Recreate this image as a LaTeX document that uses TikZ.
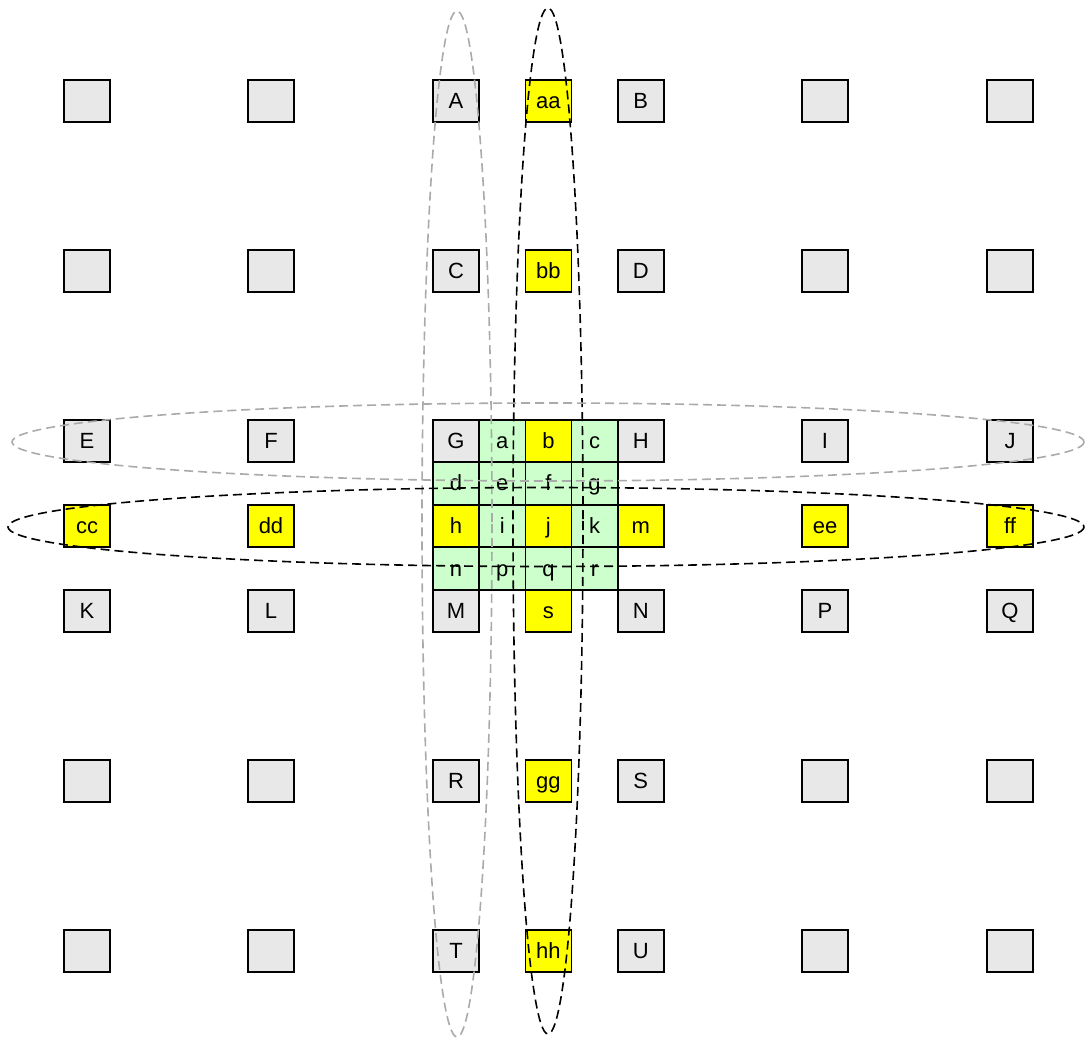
\documentclass[tikz,border=0pt]{standalone}
\usepackage{fontspec}
\setmainfont{Liberation Sans}
\definecolor{boxgray}{HTML}{E8E8E8}
\definecolor{boxyellow}{HTML}{FFFF00}
\definecolor{boxgreen}{HTML}{CCFFCC}
\definecolor{ringgray}{HTML}{AAAAAA}
\begin{document}
\begin{tikzpicture}[x=1pt,y=-1pt,
  cell/.style={draw=black,line width=1.6pt,minimum width=46.2pt,minimum height=42.5pt,inner sep=0pt,text height=15pt,text depth=0pt,font=\fontsize{22}{22}\selectfont},
  gcell/.style={cell,fill=boxgray},
  ycell/.style={cell,fill=boxyellow},
  ncell/.style={cell,fill=boxgreen},
  ring/.style={dashed,dash pattern=on 9pt off 5pt,line width=1.6pt},
  gring/.style={ring,draw=ringgray},
  bring/.style={ring,draw=black}]
\useasboundingbox (0,0) rectangle (1085,1040);
% row 1
\node[gcell] (x11) at (87,101) {};
\node[gcell] (x12) at (271,101) {};
\node[gcell] (A) at (456,101) {A};
\node[ycell] (aa) at (548.4,101) {aa};
\node[gcell] (B) at (640.8,101) {B};
\node[gcell] (x16) at (825,101) {};
\node[gcell] (x17) at (1010,101) {};
% row 2
\node[gcell] (x21) at (87,271) {};
\node[gcell] (x22) at (271,271) {};
\node[gcell] (C) at (456,271) {C};
\node[ycell] (bb) at (548.4,271) {bb};
\node[gcell] (D) at (640.8,271) {D};
\node[gcell] (x26) at (825,271) {};
\node[gcell] (x27) at (1010,271) {};
% row 3
\node[gcell] (E) at (87,441) {E};
\node[gcell] (F) at (271,441) {F};
\node[gcell] (G) at (456,441) {G};
\node[ncell] (a) at (502.2,441) {a};
\node[ycell] (b) at (548.4,441) {b};
\node[ncell] (c) at (594.6,441) {c};
\node[gcell] (H) at (640.8,441) {H};
\node[gcell] (I) at (825,441) {I};
\node[gcell] (J) at (1010,441) {J};
% row 4
\node[ncell] (d) at (456,483.5) {d};
\node[ncell] (e) at (502.2,483.5) {e};
\node[ncell] (f) at (548.4,483.5) {f};
\node[ncell] (g) at (594.6,483.5) {g};
% row 5
\node[ycell] (cc) at (87,526) {cc};
\node[ycell] (dd) at (271,526) {dd};
\node[ycell] (h) at (456,526) {h};
\node[ncell] (i) at (502.2,526) {i};
\node[ycell] (j) at (548.4,526) {j};
\node[ncell] (k) at (594.6,526) {k};
\node[ycell] (m) at (640.8,526) {m};
\node[ycell] (ee) at (825,526) {ee};
\node[ycell] (ff) at (1010,526) {ff};
% row 6
\node[ncell] (n) at (456,568.5) {n};
\node[ncell] (p) at (502.2,568.5) {p};
\node[ncell] (q) at (548.4,568.5) {q};
\node[ncell] (r) at (594.6,568.5) {r};
% row 7
\node[gcell] (K) at (87,611) {K};
\node[gcell] (L) at (271,611) {L};
\node[gcell] (M) at (456,611) {M};
\node[ycell] (s) at (548.4,611) {s};
\node[gcell] (N) at (640.8,611) {N};
\node[gcell] (P) at (825,611) {P};
\node[gcell] (Q) at (1010,611) {Q};
% row 8
\node[gcell] (x81) at (87,781) {};
\node[gcell] (x82) at (271,781) {};
\node[gcell] (R) at (456,781) {R};
\node[ycell] (gg) at (548.4,781) {gg};
\node[gcell] (S) at (640.8,781) {S};
\node[gcell] (x86) at (825,781) {};
\node[gcell] (x87) at (1010,781) {};
% row 9
\node[gcell] (x91) at (87,951) {};
\node[gcell] (x92) at (271,951) {};
\node[gcell] (T) at (456,951) {T};
\node[ycell] (hh) at (548.4,951) {hh};
\node[gcell] (U) at (640.8,951) {U};
\node[gcell] (x96) at (825,951) {};
\node[gcell] (x97) at (1010,951) {};
% cluster outlines
\draw[gring] (457,524) ellipse [x radius=35, y radius=513];
\draw[bring] (548,521) ellipse [x radius=35, y radius=513];
\draw[gring] (548,442) ellipse [x radius=536, y radius=39];
\draw[bring] (546,527) ellipse [x radius=538, y radius=39.5];
\end{tikzpicture}
\end{document}
